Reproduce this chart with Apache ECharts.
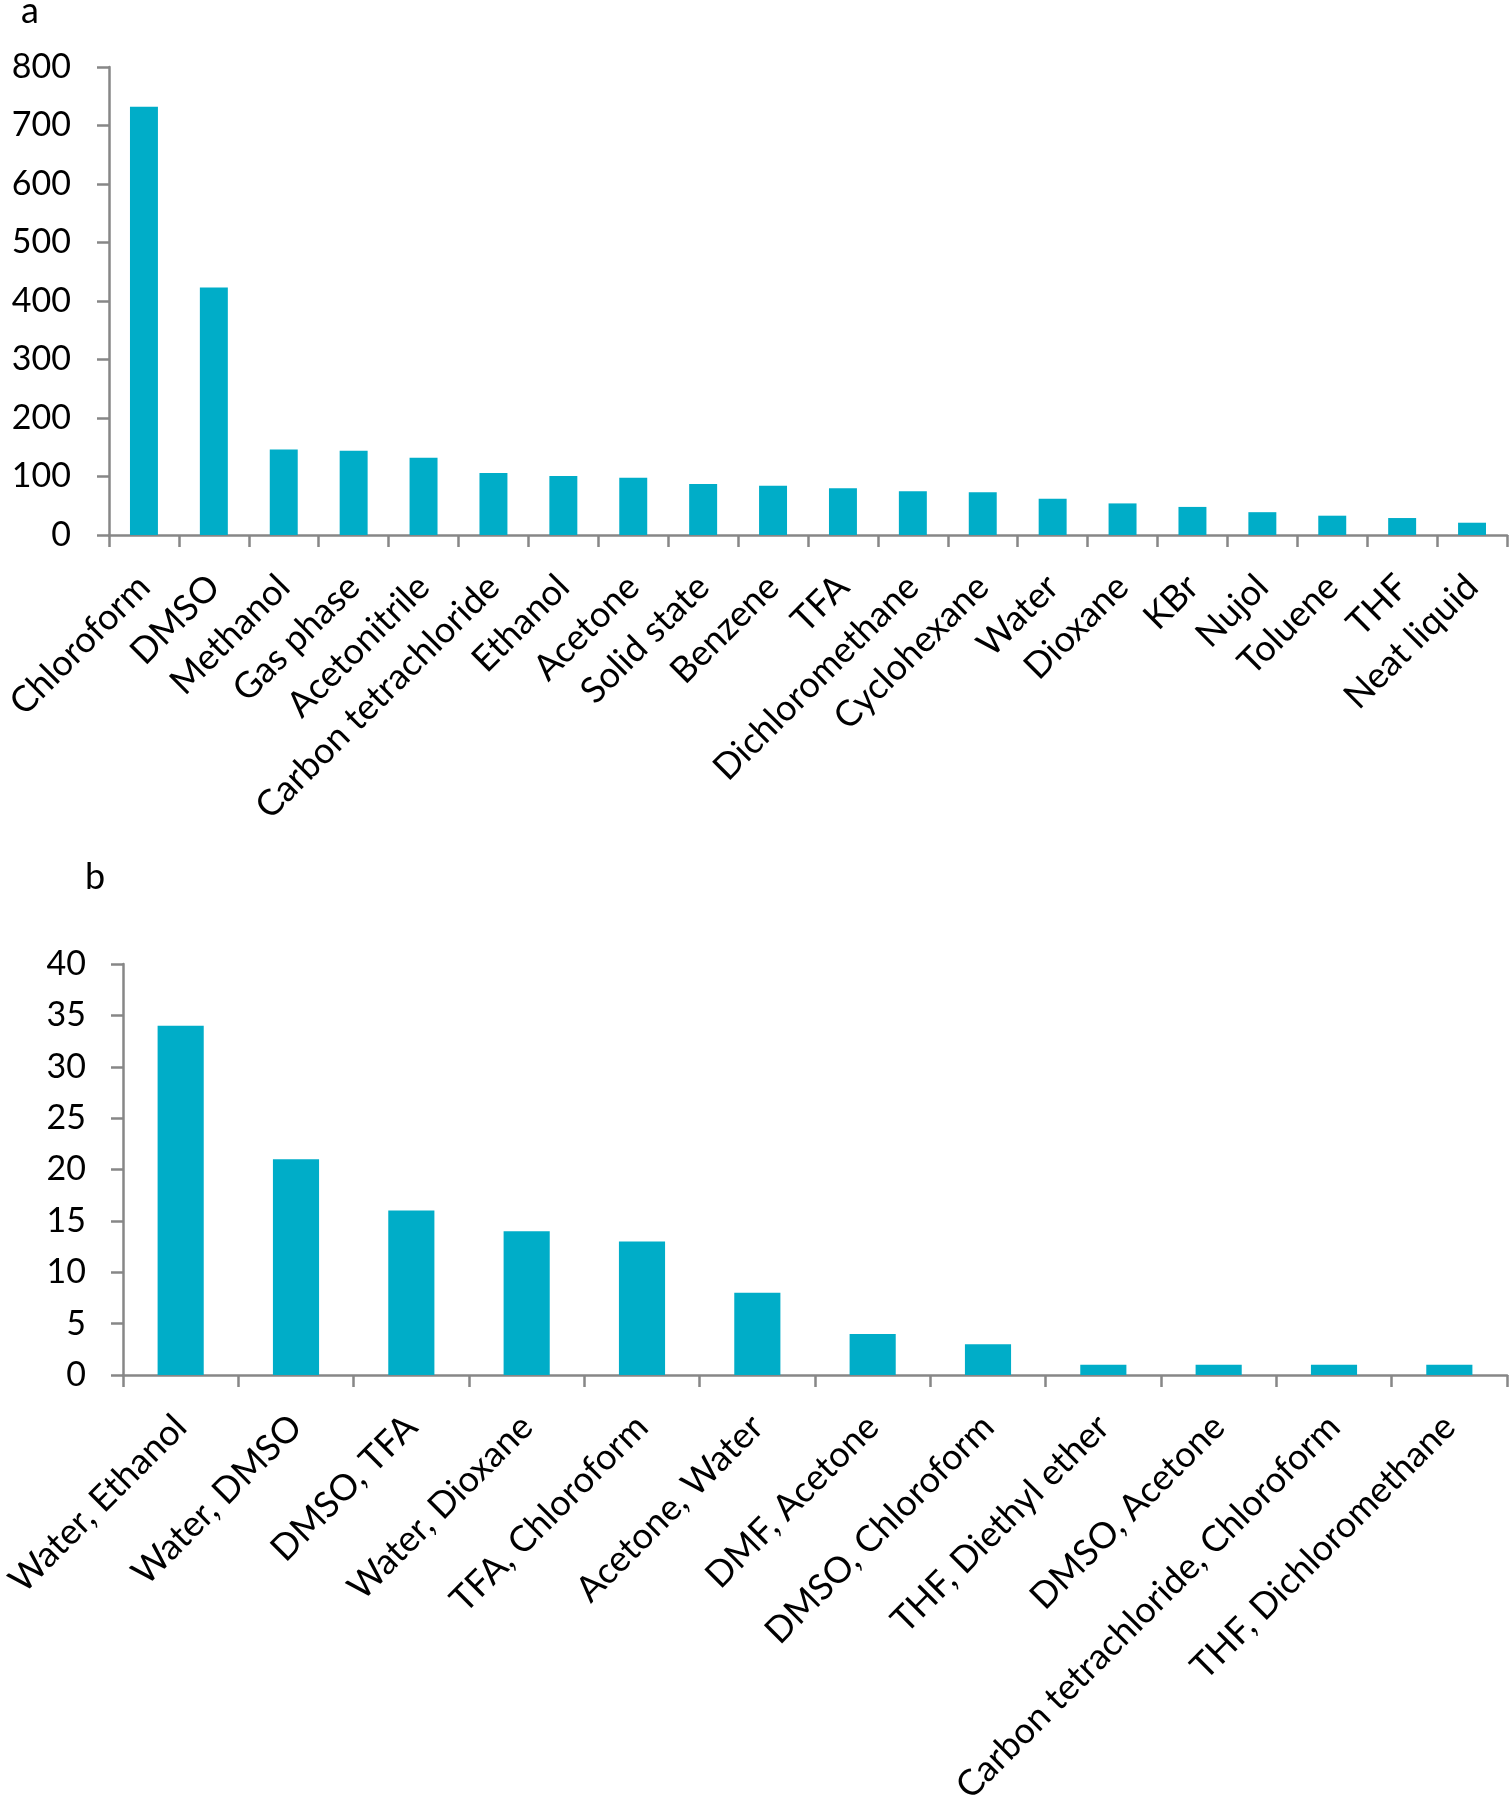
<!DOCTYPE html>
<html>
<head>
<meta charset="utf-8">
<script src="https://cdn.jsdelivr.net/npm/echarts@6/dist/echarts.min.js"></script>
<style>
html,body{margin:0;padding:0;background:#fff;}
#chart{width:1509px;height:1800px;}
</style>
</head>
<body>
<div id="chart"></div>
<script>
// Panel a: single solvents
const categoriesA = ["Chloroform","DMSO","Methanol","Gas phase","Acetonitrile","Carbon tetrachloride","Ethanol","Acetone","Solid state","Benzene","TFA","Dichloromethane","Cyclohexane","Water","Dioxane","KBr","Nujol","Toluene","THF","Neat liquid"];
const valuesA = [732,423,146,144,132,106,101,98,87,84,80,75,73,62,54,48,39,33,29,21];

// Panel b: solvent mixtures
const categoriesB = ["Water, Ethanol","Water, DMSO","DMSO, TFA","Water, Dioxane","TFA, Chloroform","Acetone, Water","DMF, Acetone","DMSO, Chloroform","THF, Diethyl ether","DMSO, Acetone","Carbon tetrachloride, Chloroform","THF, Dichloromethane"];
const valuesB = [34,21,16,14,13,8,4,3,1,1,1,1];

const FONT = 'Lato';
const AXIS_COLOR = '#878787';
const BAR_COLOR = '#00ADC8';

const chart = echarts.init(document.getElementById('chart'), null, {renderer:'canvas'});

function xAxis(gridIndex, data){
  return {
    type:'category', gridIndex, data,
    axisLine:{lineStyle:{color:AXIS_COLOR,width:2.5}},
    axisTick:{show:true,length:12,lineStyle:{color:AXIS_COLOR,width:2.5}},
    axisLabel:{interval:0,rotate:45,margin:46,color:'#000',fontFamily:FONT,fontSize:36},
    splitLine:{show:false}
  };
}
function yAxis(gridIndex, max, interval, margin){
  return {
    type:'value', gridIndex, min:0, max, interval,
    axisLine:{show:true,lineStyle:{color:AXIS_COLOR,width:2.5}},
    axisTick:{show:true,length:12,lineStyle:{color:AXIS_COLOR,width:2.5}},
    axisLabel:{margin,color:'#000',fontFamily:FONT,fontSize:34},
    splitLine:{show:false}
  };
}

chart.setOption({
  animation:false,
  backgroundColor:'#fff',
  title:[
    {text:'a',left:16,top:-12,textStyle:{fontFamily:FONT,fontSize:36,fontWeight:'normal',color:'#000'}},
    {text:'b',left:80,top:854,textStyle:{fontFamily:FONT,fontSize:36,fontWeight:'normal',color:'#000'}}
  ],
  grid:[
    {left:109,right:2,top:67,height:468,containLabel:false,outerBoundsMode:'none'},
    {left:123,right:2,top:964,height:411,containLabel:false,outerBoundsMode:'none'}
  ],
  xAxis:[xAxis(0,categoriesA), xAxis(1,categoriesB)],
  yAxis:[yAxis(0,800,100,38), yAxis(1,40,5,37)],
  series:[
    {type:'bar',xAxisIndex:0,yAxisIndex:0,data:valuesA,barWidth:'40%',itemStyle:{color:BAR_COLOR}},
    {type:'bar',xAxisIndex:1,yAxisIndex:1,data:valuesB,barWidth:'40%',itemStyle:{color:BAR_COLOR}}
  ]
});
</script>
</body>
</html>
